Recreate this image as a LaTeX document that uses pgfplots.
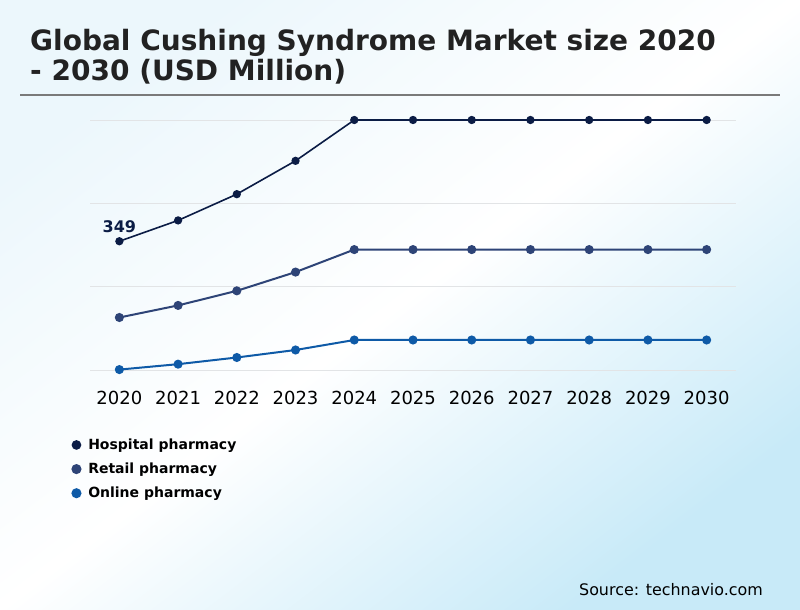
\documentclass[border=0pt]{standalone}
\usepackage{pgfplots}
\pgfplotsset{compat=1.18}
\usepackage{fontspec}
\setmainfont{DejaVu Sans}
\definecolor{hosp}{HTML}{0B1C45}
\definecolor{retail}{HTML}{2E4477}
\definecolor{online}{HTML}{0E5AA7}
\definecolor{gridgray}{HTML}{E2E4E6}
\definecolor{titlegray}{HTML}{222222}
\definecolor{sepgray}{HTML}{7A7A7A}
\definecolor{bgtl}{RGB}{236,247,252}
\definecolor{bgbr}{RGB}{200,234,248}
\pgfdeclarehorizontalshading{bgshade}{100bp}{color(0bp)=(bgtl); color(25bp)=(bgtl);
  color(50bp)=(white); color(75bp)=(bgbr); color(100bp)=(bgbr)}

\begin{document}
\begin{tikzpicture}
% background
\shade[shading=bgshade, shading angle=-52.7] (0,0) rectangle (800bp,610bp);
\useasboundingbox (0,0) rectangle (800bp,610bp);

% title
\node[anchor=base west, inner sep=0pt, text=titlegray,
      font=\bfseries\fontsize{28bp}{32bp}\selectfont]
  at (30bp,559bp) {Global Cushing Syndrome Market size 2020};
\node[anchor=base west, inner sep=0pt, text=titlegray,
      font=\bfseries\fontsize{28bp}{32bp}\selectfont]
  at (30bp,529bp) {- 2030 (USD Million)};
\draw[color=sepgray, line width=2bp] (20bp,515bp) -- (780bp,515bp);

\begin{axis}[
    at={(90bp,240bp)}, anchor=south west,
    scale only axis,
    width=646bp, height=250bp,
    xmin=2019.5, xmax=2030.5,
    ymin=40, ymax=640,
    clip=false,
    axis line style={draw=none},
    major tick length=0pt,
    xtick={2020,2021,2022,2023,2024,2025,2026,2027,2028,2029,2030},
    xticklabels={2020,2021,2022,2023,2024,2025,2026,2027,2028,2029,2030},
    xticklabel style={font=\fontsize{18bp}{20bp}\selectfont, anchor=center, yshift=-28bp},
    ytick={40,240,440,640},
    yticklabels={},
    ymajorgrids,
    grid style={color=gridgray, line width=0.8bp},
    legend cell align=left,
    legend image code/.code={\fill[#1] (0bp,0bp) circle (4bp);},
    legend style={at={(-0.0290,-0.2748)}, anchor=north west,
        draw=none, fill=none, inner sep=0pt,
        nodes={inner sep=0pt},
        font=\bfseries\fontsize{14bp}{16bp}\selectfont,
        row sep=12bp,
        /tikz/every odd column/.append style={column sep=6.8bp}},
]
\addplot[color=hosp, line width=1.6bp, mark=*, mark size=3.3bp] coordinates {
    (2020,349) (2021,399) (2022,462) (2023,542) (2024,640) (2025,640)
    (2026,640) (2027,640) (2028,640) (2029,640) (2030,640)
};
\addlegendentry{Hospital pharmacy}
\addplot[color=retail, line width=2bp, mark=*, mark size=3.5bp] coordinates {
    (2020,166) (2021,195) (2022,230) (2023,275) (2024,329) (2025,329)
    (2026,329) (2027,329) (2028,329) (2029,329) (2030,329)
};
\addlegendentry{Retail pharmacy}
\addplot[color=online, line width=2bp, mark=*, mark size=3.5bp] coordinates {
    (2020,41) (2021,54) (2022,70) (2023,88) (2024,112) (2025,112)
    (2026,112) (2027,112) (2028,112) (2029,112) (2030,112)
};
\addlegendentry{Online pharmacy}

\node[text=hosp, font=\bfseries\fontsize{16bp}{18bp}\selectfont]
  at (axis cs:2020,349) [yshift=15bp] {349};
\end{axis}

\node[anchor=base east, inner sep=0pt, font=\fontsize{15.9bp}{18bp}\selectfont]
  at (763bp,15bp) {Source: technavio.com};
\end{tikzpicture}
\end{document}
